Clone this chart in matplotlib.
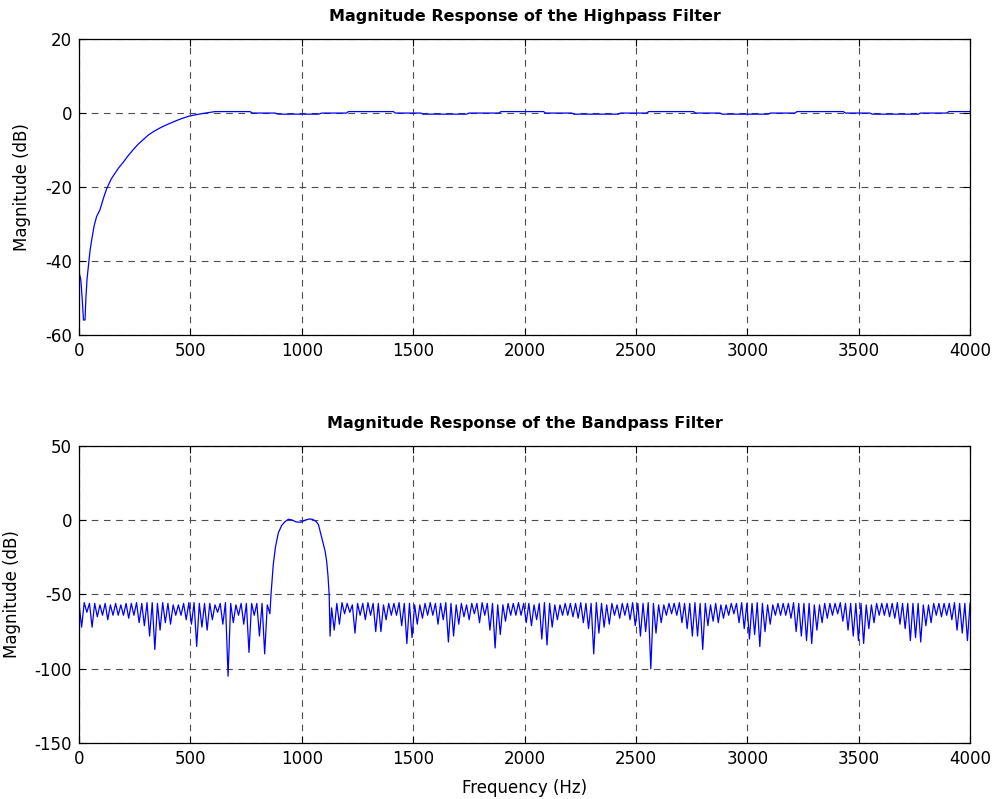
import numpy as np
import matplotlib
matplotlib.use("Agg")
from matplotlib import pyplot as plt

plt.rcParams['font.family'] = ['DejaVu Sans']
plt.rcParams['axes.unicode_minus'] = False

# ---- highpass filter response ----
hp_freq = [0, 8, 14, 20, 27, 31, 36, 42, 50, 57, 68, 79, 94, 110, 124, 145, 176, 200,
           221, 245, 266, 290, 310, 340, 371, 400, 431, 460, 491, 520, 558,
           610, 767, 780, 880, 895, 1074, 1090, 1201, 1210, 1411, 1420, 1535, 1545,
           1740, 1750, 1885, 1895, 2085, 2095, 2212, 2222, 2421, 2431, 2548, 2558,
           2758, 2768, 2877, 2887, 3094, 3104, 3214, 3224, 3431, 3441, 3551, 3561,
           3768, 3778, 3895, 3905, 4000]
hp_db = [-43, -45, -50, -56, -56, -50, -45, -41.5, -37, -34.3, -30.5, -28, -26.2, -23,
         -20.5, -17.8, -15, -13.2, -11.5, -9.8, -8.4, -7.1, -6.0, -4.8, -3.8, -3.0, -2.2,
         -1.5, -0.9, -0.5, -0.1,
         0.4, 0.4, 0.0, 0.0, -0.3, -0.3, 0.0, 0.0, 0.4, 0.4, 0.0, 0.0, -0.3,
         -0.3, 0.0, 0.0, 0.4, 0.4, 0.0, 0.0, -0.3, -0.3, 0.0, 0.0, 0.4,
         0.4, 0.0, 0.0, -0.3, -0.3, 0.0, 0.0, 0.4, 0.4, 0.0, 0.0, -0.3,
         -0.3, 0.0, 0.0, 0.4, 0.4]

# ---- bandpass filter response ----
# lower stopband 0..857 Hz: alternating lobe tops and notches
bp_low_peaks = [-56, -55.5, -56, -56, -57, -56, -57, -56, -57, -56,
                -56, -55.5, -56, -55.5, -55.5, -56, -55.5, -56, -57, -57,
                -56, -55.5, -55.5, -56, -56, -56, -57, -56, -55.5, -56,
                -57, -56, -56, -56, -56, -56, -57]
bp_low_dips = [-72, -62, -72, -65, -64, -67, -64, -64, -64, -66,
               -64, -69, -71, -78, -87, -74, -69, -70, -64, -64,
               -67, -70, -85, -72, -74, -67, -62, -70, -105, -69,
               -64, -70, -89, -64, -78, -90, -63]

# passband
bp_pass_freq = [862, 872, 882, 895, 910, 925, 940, 955, 975, 995, 1015, 1035, 1050,
                1065, 1075, 1085, 1095, 1105, 1112, 1118, 1123, 1127]
bp_pass_db = [-50, -30, -18, -8.5, -3.5, -1, 0.6, 0.2, -1.2, -1.4, 0, 0.8, 0.5,
              -1, -3, -9, -15, -21, -28, -38, -50, -78]

# upper stopband 1134..4000 Hz
bp_up_peaks = [-59, -56, -55.5, -56, -57, -56, -56, -55.5, -56, -56,
               -57, -56, -56, -55.5, -56, -56, -57, -57, -56, -55.5,
               -56, -56, -55.5, -56, -57, -56, -57, -56, -56, -55.5,
               -56, -56, -57, -57, -56, -56, -55.5, -56, -56, -57,
               -56, -55.5, -56, -57, -57, -56, -56, -56, -55.5, -56,
               -56, -55.5, -56, -57, -56, -57, -56, -56, -55.5, -56,
               -56, -55.5, -56, -57, -57, -56, -56, -55.5, -56, -56,
               -55.5, -56, -56, -57, -56, -57, -57, -56, -56, -55.5,
               -56, -56, -55.5, -56, -57, -57, -56, -56, -56, -55.5,
               -56, -56, -56, -57, -57, -56, -56, -56, -55.5, -56,
               -56, -56, -56, -57, -57, -56, -56, -56, -56, -55.5,
               -56, -56, -56, -56, -57, -57, -56, -56, -56, -56,
               -55.5, -56, -56, -56]
bp_up_dips = [-74, -70, -63, -62, -76, -64, -67, -64, -75, -75,
              -67, -64, -64, -71, -83, -79, -70, -66, -64, -64,
              -70, -67, -82, -78, -70, -65, -67, -63, -69, -64,
              -74, -86, -77, -68, -64, -64, -64, -69, -71, -67,
              -80, -84, -72, -67, -64, -64, -65, -66, -69, -73,
              -90, -76, -72, -70, -64, -66, -64, -67, -71, -78,
              -75, -100, -76, -69, -64, -63, -64, -69, -73, -78,
              -78, -87, -71, -68, -69, -66, -64, -63, -69, -73,
              -80, -77, -85, -75, -70, -64, -64, -64, -66, -75,
              -78, -81, -83, -74, -69, -66, -64, -63, -68, -74,
              -78, -81, -83, -73, -69, -64, -64, -65, -66, -70,
              -73, -81, -79, -82, -71, -69, -64, -65, -64, -67,
              -74, -76, -81]

# interleave tops and notches on the sampling grid
low_db = np.empty(2 * len(bp_low_dips))
low_db[0::2] = bp_low_peaks
low_db[1::2] = bp_low_dips
low_freq = np.linspace(0, 857, len(low_db))

up_db = np.empty(len(bp_up_peaks) + len(bp_up_dips))
up_db[0::2] = bp_up_peaks
up_db[1::2] = bp_up_dips
up_freq = np.linspace(1134, 4000, len(up_db))

bp_freq = np.concatenate([low_freq, bp_pass_freq, up_freq])
bp_db = np.concatenate([low_db, bp_pass_db, up_db])


def styleAxes(ax, ylim, yticks, title):
    ax.set_xlim(0, 4000)
    ax.set_ylim(*ylim)
    ax.set_xticks(np.arange(0, 4001, 500))
    ax.set_yticks(yticks)
    ax.grid(True, color='0.3', linestyle=(0, (6, 5)), linewidth=0.8)
    ax.tick_params(direction='in', top=True, right=True, length=5, labelsize=12, pad=5)
    for s in ax.spines.values():
        s.set_linewidth(0.9)
    ax.set_title(title, fontsize=11.5, fontweight='bold', pad=13)
    ax.set_ylabel('Magnitude (dB)', fontsize=12, labelpad=10)


fig = plt.figure(figsize=(9.95, 7.99), dpi=100)
ax1 = fig.add_axes([0.0794, 0.581, 0.8955, 0.370])
ax2 = fig.add_axes([0.0794, 0.070, 0.8955, 0.372])

ax1.plot(hp_freq, hp_db, color='#0000ff', linewidth=0.9)
styleAxes(ax1, (-60, 20), [-60, -40, -20, 0, 20], 'Magnitude Response of the Highpass Filter')

ax2.plot(bp_freq, bp_db, color='#0000ff', linewidth=0.9)
styleAxes(ax2, (-150, 50), [-150, -100, -50, 0, 50], 'Magnitude Response of the Bandpass Filter')
ax2.set_xlabel('Frequency (Hz)', fontsize=12, labelpad=8)

fig.savefig('out.png', dpi=100)
